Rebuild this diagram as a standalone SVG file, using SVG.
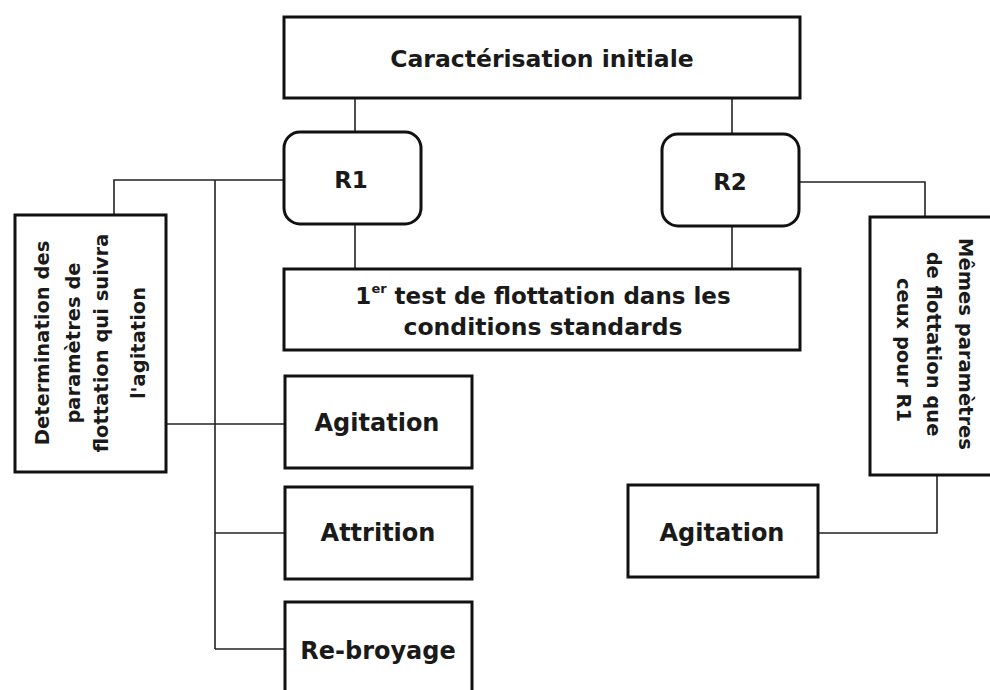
<svg xmlns="http://www.w3.org/2000/svg" width="990" height="690" viewBox="0 0 990 690">
  <style>
    .box { fill: #ffffff; stroke: #111111; stroke-width: 3; }
    .wire { fill: none; stroke: #222222; stroke-width: 1.6; }
    .lbl { font-family: "DejaVu Sans", "Liberation Sans", sans-serif; font-weight: bold; fill: #1a1a1a; text-anchor: middle; dominant-baseline: central; }
    .big { font-size: 24px; }
    .side { font-size: 19.5px; }
  </style>
  <rect width="990" height="690" fill="#ffffff"/>

  <!-- connectors -->
  <g id="connectors" class="wire">
    <line x1="355" y1="98" x2="355" y2="132"/>
    <line x1="732" y1="98" x2="732" y2="134"/>
    <line x1="355" y1="224" x2="355" y2="269"/>
    <line x1="732" y1="226" x2="732" y2="269"/>
    <polyline points="284,180 114,180 114,215"/>
    <line x1="215" y1="180" x2="215" y2="649"/>
    <line x1="166" y1="424" x2="285" y2="424"/>
    <line x1="215" y1="533" x2="285" y2="533"/>
    <line x1="215" y1="649" x2="285" y2="649"/>
    <polyline points="799,182 925,182 925,217"/>
    <polyline points="937,475 937,533 818,533"/>
  </g>

  <g id="caracterisation">
    <rect class="box" x="284" y="17" width="516" height="81"/>
    <text class="lbl" x="542" y="59" font-size="23.5">Caractérisation initiale</text>
  </g>

  <g id="r1">
    <rect class="box" x="284" y="132" width="137" height="92" rx="16"/>
    <text class="lbl" x="351" y="180" font-size="23">R1</text>
  </g>

  <g id="r2">
    <rect class="box" x="662" y="134" width="137" height="92" rx="16"/>
    <text class="lbl" x="730" y="182" font-size="23">R2</text>
  </g>

  <g id="test-flottation">
    <rect class="box" x="284" y="269" width="516" height="81"/>
    <text class="lbl" x="543" y="296" font-size="23">1<tspan font-size="13" dy="-8">er</tspan><tspan dy="8"> test de flottation dans les</tspan></text>
    <text class="lbl" x="543" y="327" font-size="23.5">conditions standards</text>
  </g>

  <g id="determination">
    <rect class="box" x="15" y="215" width="151" height="257"/>
    <g transform="translate(90,343) rotate(-90)">
      <text class="lbl side" x="0" y="-48">Determination des</text>
      <text class="lbl side" x="0" y="-17">paramètres de</text>
      <text class="lbl side" x="0" y="11">flottation qui suivra</text>
      <text class="lbl side" x="0" y="48">l'agitation</text>
    </g>
  </g>

  <g id="memes-parametres">
    <rect class="box" x="870" y="217" width="130" height="258"/>
    <g transform="translate(933,344) rotate(90)">
      <text class="lbl side" x="0" y="-32">Mêmes paramètres</text>
      <text class="lbl side" x="0" y="0">de flottation que</text>
      <text class="lbl side" x="6" y="30">ceux pour R1</text>
    </g>
  </g>

  <g id="agitation-r1">
    <rect class="box" x="285" y="376" width="187" height="92"/>
    <text class="lbl big" x="377" y="423">Agitation</text>
  </g>

  <g id="attrition">
    <rect class="box" x="285" y="487" width="187" height="92"/>
    <text class="lbl big" x="378" y="533">Attrition</text>
  </g>

  <g id="rebroyage">
    <rect class="box" x="285" y="602" width="187" height="100"/>
    <text class="lbl big" x="378" y="651">Re-broyage</text>
  </g>

  <g id="agitation-r2">
    <rect class="box" x="628" y="485" width="190" height="92"/>
    <text class="lbl big" x="722" y="533">Agitation</text>
  </g>
</svg>
